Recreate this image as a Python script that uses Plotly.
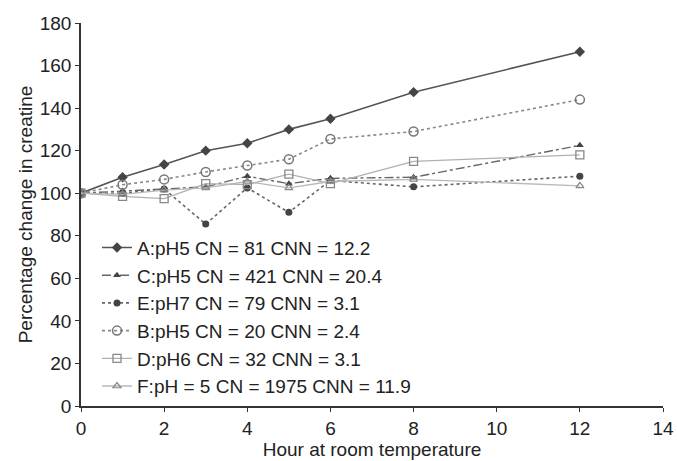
import plotly.graph_objects as go

hours = [0, 1, 2, 3, 4, 5, 6, 8, 12]
series_names = [
    "A:pH5 CN = 81 CNN = 12.2",
    "C:pH5 CN = 421 CNN = 20.4",
    "E:pH7 CN = 79 CNN = 3.1",
    "B:pH5 CN = 20 CNN = 2.4",
    "D:pH6 CN = 32 CNN = 3.1",
    "F:pH = 5 CN = 1975 CNN = 11.9",
]
A = [100, 107.5, 113.5, 120, 123.5, 130, 135, 147.5, 166.5]
C = [100, 101, 102, 103, 108, 104.5, 107, 107.5, 122.5]
E = [100, 100, 102, 85.5, 102.5, 91, 106, 103, 108]
B = [100, 104, 106.5, 110, 113, 116, 125.5, 129, 144]
D = [100, 98.5, 97.5, 104.5, 104, 109, 104.5, 115, 118]
F = [100, 99.5, 101.5, 102.5, 105.5, 102.5, 105.5, 106.5, 103.5]

x_ticks = [0, 2, 4, 6, 8, 10, 12, 14]
y_ticks = [0, 20, 40, 60, 80, 100, 120, 140, 160, 180]

styles = [
    dict(line=dict(color="#555555", width=1.6, dash="solid"),
         marker=dict(symbol="diamond", size=8, color="#444444")),
    dict(line=dict(color="#666666", width=1.4, dash="dashdot"),
         marker=dict(symbol="triangle-up", size=7, color="#444444")),
    dict(line=dict(color="#666666", width=1.6, dash="dot"),
         marker=dict(symbol="circle", size=7, color="#444444")),
    dict(line=dict(color="#888888", width=1.6, dash="dot"),
         marker=dict(symbol="circle-open", size=9, color="#777777", line=dict(width=1.5))),
    dict(line=dict(color="#b0b0b0", width=1.3, dash="solid"),
         marker=dict(symbol="square-open", size=8, color="#888888", line=dict(width=1.3))),
    dict(line=dict(color="#b8b8b8", width=1.3, dash="solid"),
         marker=dict(symbol="triangle-up-open", size=7, color="#888888", line=dict(width=1.2))),
]

fig = go.Figure()
for name, vals, st in zip(series_names, [A, C, E, B, D, F], styles):
    fig.add_trace(go.Scatter(x=hours, y=vals, mode="lines+markers", name=name,
                             line=st["line"], marker=st["marker"]))

font = "Liberation Sans, Arial, sans-serif"
fig.update_layout(
    width=677, height=461,
    margin=dict(l=81, r=14, t=23, b=55),
    paper_bgcolor="white", plot_bgcolor="white",
    font=dict(family=font, size=19, color="#222222"),
    showlegend=True,
    legend=dict(x=0.0275, y=0.463, xanchor="left", yanchor="top",
                bgcolor="rgba(0,0,0,0)", font=dict(size=19), tracegroupgap=0,
                itemwidth=30),
    xaxis=dict(range=[0, 14], tickvals=x_ticks, showgrid=False, zeroline=False,
               automargin=False,
               showline=True, linecolor="#333333", linewidth=1.5,
               ticks="outside", ticklen=4, tickcolor="#333333",
               title=dict(text="Hour at room temperature", standoff=0, font=dict(size=19))),
    yaxis=dict(range=[0, 180], tickvals=y_ticks, showgrid=False, zeroline=False,
               automargin=False,
               showline=True, linecolor="#333333", linewidth=1.5,
               ticks="outside", ticklen=4, tickcolor="#333333",
               title=dict(text="Percentage change in creatine", standoff=2, font=dict(size=19))),
)
fig.write_html("out.html", config={"displayModeBar": False},
               post_script="document.body.style.margin='0';document.body.style.overflow='hidden';")
